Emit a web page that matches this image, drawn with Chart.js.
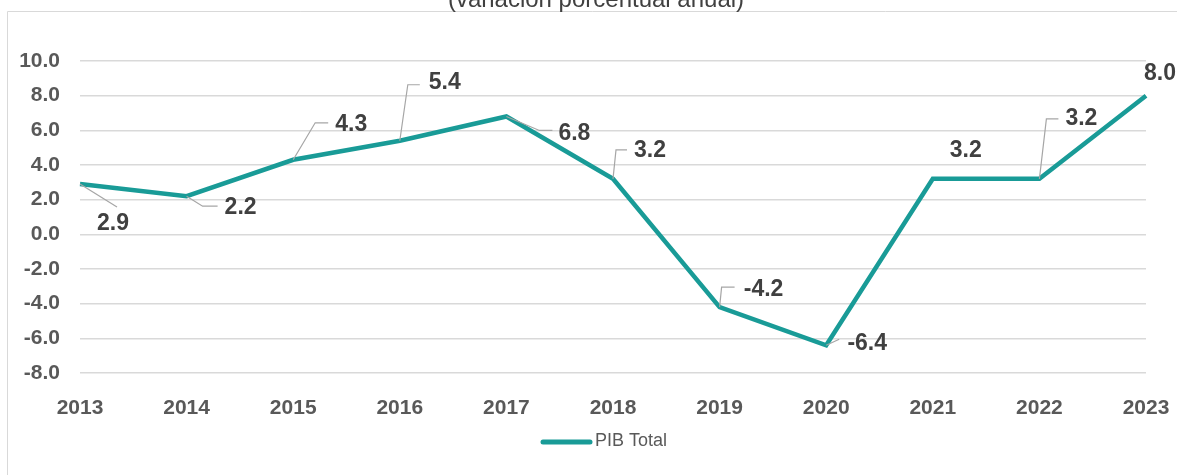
<!DOCTYPE html>
<html>
<head>
<meta charset="utf-8">
<script src="https://cdn.jsdelivr.net/npm/chart.js@4"></script>
<style>
  html, body { margin: 0; padding: 0; background: #fff; }
  #wrap { position: relative; width: 1177px; height: 475px; }
</style>
</head>
<body>
<div id="wrap"><canvas id="pib" width="1177" height="475"></canvas></div>
<script>
const years = ["2013", "2014", "2015", "2016", "2017", "2018", "2019", "2020", "2021", "2022", "2023"];
const pibTotal = [2.9, 2.2, 4.3, 5.4, 6.8, 3.2, -4.2, -6.4, 3.2, 3.2, 8.0];
const seriesName = "PIB Total";
const subtitle = "(variación porcentual anual)";

// where each value label sits, relative to its point, and the leader line to it
const labelOffsets = [[33, 40], [54, 11], [58, -35], [45, -58], [68, 17], [37, -28], [44, -17], [41, -2], [33, -28], [42, -60], [14, -22]];
const leaders = [
  [[37, 23]],
  [[16, 10], [31, 10]],
  [[22, -37], [35, -37]],
  [[8, -56], [20, -56]],
  [[33, 14], [46, 14]],
  [[3, -29], [14, -29]],
  [[2, -20], [15, -20]],
  [[13, -6]],
  [],
  [[7, -60], [19, -60]],
  []
];

const TEAL = "#199b97";
const FONT = "'Liberation Sans', Arial, sans-serif";

const decor = {
  id: "decor",
  beforeDraw(chart) {
    const ctx = chart.ctx;
    ctx.save();
    // frame
    ctx.strokeStyle = "#d9d9d9";
    ctx.lineWidth = 1;
    ctx.beginPath();
    ctx.moveTo(7.5, 480);
    ctx.lineTo(7.5, 11.5);
    ctx.lineTo(1180, 11.5);
    ctx.stroke();
    // subtitle, cut at the top like the source
    ctx.fillStyle = "#404040";
    ctx.font = "24px " + FONT;
    ctx.textAlign = "center";
    ctx.textBaseline = "alphabetic";
    ctx.fillText(subtitle, 596, 7);
    ctx.restore();
  },
  afterDraw(chart) {
    const ctx = chart.ctx;
    ctx.save();
    // legend
    ctx.strokeStyle = TEAL;
    ctx.lineWidth = 5;
    ctx.lineCap = "round";
    ctx.beginPath();
    ctx.moveTo(543, 442);
    ctx.lineTo(590, 442);
    ctx.stroke();
    ctx.fillStyle = "#595959";
    ctx.font = "18px " + FONT;
    ctx.textAlign = "left";
    ctx.textBaseline = "middle";
    ctx.fillText(seriesName, 595, 441);
    ctx.restore();
  },
  afterDatasetsDraw(chart) {
    const ctx = chart.ctx;
    const pts = chart.getDatasetMeta(0).data;
    ctx.save();
    ctx.strokeStyle = "#a6a6a6";
    ctx.lineWidth = 1.2;
    pts.forEach((p, i) => {
      if (!leaders[i].length) return;
      ctx.beginPath();
      ctx.moveTo(p.x, p.y);
      leaders[i].forEach(([dx, dy]) => ctx.lineTo(p.x + dx, p.y + dy));
      ctx.stroke();
    });
    ctx.fillStyle = "#404040";
    ctx.font = "bold 23px " + FONT;
    ctx.textAlign = "center";
    ctx.textBaseline = "middle";
    pts.forEach((p, i) => {
      const [dx, dy] = labelOffsets[i];
      ctx.fillText(pibTotal[i].toFixed(1), p.x + dx, p.y + dy);
    });
    ctx.restore();
  }
};

new Chart(document.getElementById("pib"), {
  type: "line",
  data: {
    labels: years,
    datasets: [{
      label: seriesName,
      data: pibTotal,
      borderColor: TEAL,
      borderWidth: 4.5,
      pointRadius: 0,
      tension: 0,
      clip: false
    }]
  },
  options: {
    responsive: false,
    animation: false,
    layout: { padding: { top: 61, right: 31, left: 0, bottom: 0 } },
    plugins: {
      legend: { display: false },
      tooltip: { enabled: false }
    },
    scales: {
      x: {
        offset: false,
        grid: { display: false },
        border: { display: false },
        ticks: { color: "#595959", font: { family: FONT, size: 21, weight: "bold" }, padding: 15, maxRotation: 0 },
        afterFit(scale) {
          scale.height = 102;
          scale.paddingLeft = 0;
          scale.paddingRight = 0;
        }
      },
      y: {
        min: -8,
        max: 10,
        grid: { color: "#d9d9d9", lineWidth: 1.5, drawTicks: false },
        border: { display: false },
        ticks: {
          stepSize: 2,
          color: "#595959",
          font: { family: FONT, size: 21, weight: "bold" },
          padding: 20,
          callback: (v) => v.toFixed(1)
        },
        afterFit(scale) { scale.width = 80; }
      }
    }
  },
  plugins: [decor]
});
</script>
</body>
</html>
